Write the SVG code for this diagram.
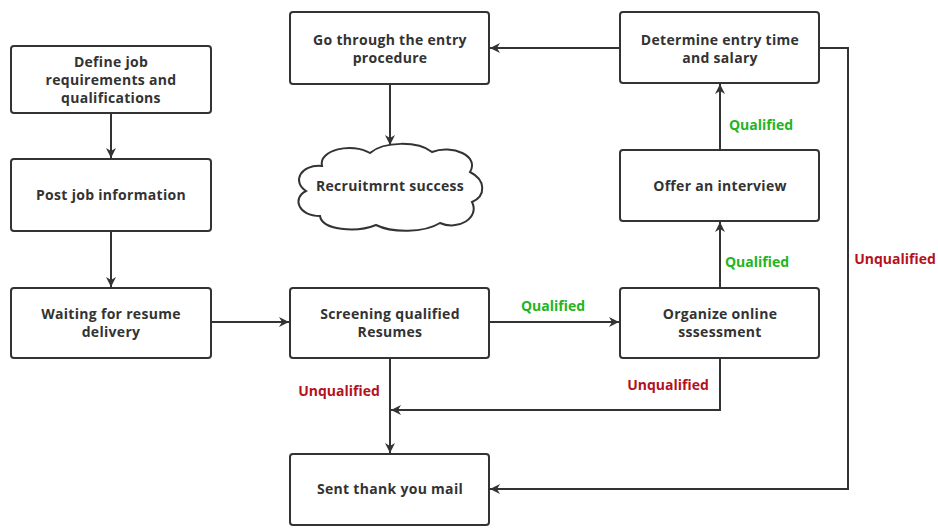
<svg xmlns="http://www.w3.org/2000/svg" width="938" height="528" viewBox="0 0 938 528">
<defs>
<style>
.box{fill:#fff;stroke:#333;stroke-width:2}
.t{font-family:"Open Sans","Noto Sans","DejaVu Sans",sans-serif;font-weight:bold;font-size:14px;letter-spacing:0.3px;fill:#333;text-anchor:middle}
.ok{font-family:"Open Sans","Noto Sans","DejaVu Sans",sans-serif;font-weight:bold;font-size:14px;fill:#22b422;text-anchor:middle}
.no{font-family:"Open Sans","Noto Sans","DejaVu Sans",sans-serif;font-weight:bold;font-size:14px;fill:#b3121c;text-anchor:middle}
.c{fill:none;stroke:#333;stroke-width:2}
</style>
<marker id="a" viewBox="0 0 10 10" refX="10" refY="5" markerWidth="10" markerHeight="10" markerUnits="userSpaceOnUse" orient="auto">
<path d="M0,0 L10,5 L0,10 L3,5 Z" fill="#333"/>
</marker>
</defs>
<rect width="938" height="528" fill="#fff"/>
<g id="connectors">
<path class="c" d="M111,113 V158" marker-end="url(#a)"/>
<path class="c" d="M111,231 V287" marker-end="url(#a)"/>
<path class="c" d="M211,322 H289" marker-end="url(#a)"/>
<path class="c" d="M489,322 H619" marker-end="url(#a)"/>
<path class="c" d="M720,288 V222" marker-end="url(#a)"/>
<path class="c" d="M720,150 V84" marker-end="url(#a)"/>
<path class="c" d="M620,48 H490" marker-end="url(#a)"/>
<path class="c" d="M390,84 V145" marker-end="url(#a)"/>
<path class="c" d="M390,358 V453" marker-end="url(#a)"/>
<path class="c" d="M720,358 V410 H391" marker-end="url(#a)"/>
<path class="c" d="M819,48 H848 V489 H490" marker-end="url(#a)"/>
<text class="ok" x="553" y="311">Qualified</text>
<text class="ok" x="757" y="267">Qualified</text>
<text class="ok" x="761" y="130">Qualified</text>
<text class="no" x="339" y="396">Unqualified</text>
<text class="no" x="668" y="390">Unqualified</text>
<text class="no" x="895" y="264">Unqualified</text>
</g>
<g id="n1"><rect class="box" x="11" y="46" width="200" height="67" rx="3"/>
<text class="t" x="111" y="67">Define job</text><text class="t" x="111" y="85">requirements and</text><text class="t" x="111" y="103">qualifications</text></g>
<g id="n2"><rect class="box" x="11" y="159" width="200" height="72" rx="3"/>
<text class="t" x="111" y="200">Post job information</text></g>
<g id="n3"><rect class="box" x="11" y="288" width="200" height="70" rx="3"/>
<text class="t" x="111" y="319">Waiting for resume</text><text class="t" x="111" y="337">delivery</text></g>
<g id="n4"><rect class="box" x="290" y="288" width="199" height="70" rx="3"/>
<text class="t" x="390" y="319">Screening qualified</text><text class="t" x="390" y="337">Resumes</text></g>
<g id="n5"><rect class="box" x="620" y="288" width="199" height="70" rx="3"/>
<text class="t" x="720" y="319">Organize online</text><text class="t" x="720" y="337">sssessment</text></g>
<g id="n6"><rect class="box" x="620" y="150" width="199" height="71" rx="3"/>
<text class="t" x="720" y="191">Offer an interview</text></g>
<g id="n7"><rect class="box" x="620" y="12" width="199" height="71" rx="3"/>
<text class="t" x="720" y="45">Determine entry time</text><text class="t" x="720" y="63">and salary</text></g>
<g id="n8"><rect class="box" x="290" y="12" width="199" height="72" rx="3"/>
<text class="t" x="390" y="45">Go through the entry</text><text class="t" x="390" y="63">procedure</text></g>
<g id="n9"><path class="box" d="M322,166 C318,150 352,142 370,153 C384,141 418,141 432,152 C452,144 480,156 470,172 C486,180 486,196 472,202 C480,218 458,231 440,223 C424,233 392,233 376,225 C356,233 322,230 320,216 C298,216 292,198 306,191 C292,182 300,164 322,166 Z"/>
<text class="t" x="390" y="191">Recruitmrnt success</text></g>
<g id="n10"><rect class="box" x="290" y="454" width="199" height="71" rx="3"/>
<text class="t" x="390" y="494">Sent thank you mail</text></g>
</svg>
